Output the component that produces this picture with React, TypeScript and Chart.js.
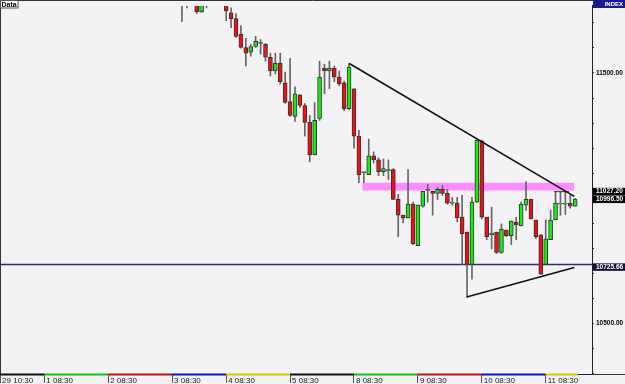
import React, { useEffect, useRef } from 'react';
import { Chart, registerables } from 'chart.js';

Chart.register(...registerables);

// ---------- data ----------
// bar index of the first entry of the OHLC arrays (earlier bars lie above the visible range)
const FIRST_BAR = 37;
const opens: (number | null)[] = [
  11830, 11800, null, 11785, 11744, 11790, null, null, null, 11790,
  11740, 11717, 11654, 11602, 11583, 11606, 11618, 11614, 11563, 11508,
  11539, 11461, 11386, 11327, 11413, 11370, 11303, 11173, 11319, 11520,
  11508, 11520, 11484, 11461, 11358, 11437, 11248, 11102, 11094, 11169,
  11153, 11106, 11110, 11114, 10995, 10932, 10921, 10976, 10810, 10968,
  11031, 11027, 11019, 11035, 11019, 10980, 10980, 10924, 10865, 10735,
  10984, 11228, 10924, 10854, 10865, 10783, 10873, 10850, 10905, 10889,
  10972, 10995, 10913, 10854, 10735, 10834, 10913, 10976, 10976, 10980,
  10968,
];
const highs: (number | null)[] = [
  11850, 11820, null, 11800, 11800, 11800, null, null, null, 11800,
  11760, 11737, 11689, 11638, 11614, 11646, 11634, 11618, 11579, 11579,
  11579, 11504, 11559, 11445, 11413, 11378, 11331, 11382, 11547, 11535,
  11547, 11528, 11508, 11468, 11539, 11437, 11271, 11102, 11236, 11185,
  11161, 11157, 11153, 11118, 11015, 10932, 11114, 10984, 10972, 11027,
  11055, 11027, 11043, 11051, 11035, 11003, 11003, 11011, 10865, 11003,
  11232, 11232, 10924, 10964, 10865, 10897, 10873, 10909, 10924, 10984,
  11066, 10995, 10913, 10854, 10913, 10952, 11027, 11027, 11027, 11011,
  10999,
];
const lows: (number | null)[] = [
  11705, 11760, null, 11737, 11742, 11760, null, null, null, 11709,
  11681, 11642, 11599, 11528, 11567, 11602, 11575, 11547, 11488, 11496,
  11457, 11378, 11327, 11307, 11362, 11248, 11145, 11173, 11311, 11417,
  11437, 11465, 11449, 11350, 11354, 11200, 11062, 11062, 11094, 11141,
  11090, 11090, 11074, 10995, 10846, 10901, 10921, 10814, 10810, 10964,
  10984, 10932, 10995, 11011, 10976, 10972, 10905, 10735, 10605, 10676,
  10984, 10917, 10834, 10798, 10779, 10779, 10846, 10814, 10834, 10889,
  10952, 10917, 10838, 10696, 10735, 10834, 10913, 10932, 10935, 10960,
  10968,
];
const closes: (number | null)[] = [
  11800, 11790, null, 11744, 11785, 11780, null, null, null, 11748,
  11717, 11646, 11602, 11579, 11606, 11626, 11618, 11563, 11508, 11539,
  11465, 11382, 11331, 11417, 11370, 11303, 11173, 11311, 11484, 11508,
  11520, 11484, 11457, 11358, 11524, 11248, 11094, 11102, 11169, 11153,
  11106, 11118, 11110, 10995, 10932, 10921, 10976, 10818, 10972, 11027,
  11031, 11019, 11035, 11019, 10980, 10980, 10921, 10857, 10735, 10984,
  11232, 10924, 10846, 10861, 10783, 10877, 10850, 10909, 10893, 10976,
  10995, 10917, 10846, 10696, 10838, 10913, 10980, 10980, 10980, 10968,
  10996.5,
];

// x-axis day starts (bar index) and their labels
const dayStarts = [0, 9, 22, 35, 46, 59, 72, 85, 98, 111];
const dayLabels = ['29 10:30', '1 08:30', '2 08:30', '3 08:30', '4 08:30', '5 08:30', '8 08:30', '9 08:30', '10 08:30', '11 08:30'];
const LAST_BAR = 117;

// y-axis labelled levels
const labeledLevels = [11500, 10500];

// drawn objects
const upperTrendX = [71.05, 116.82];
const upperTrendY = [11538, 11007];
const lowerTrendX = [94.93, 116.82];
const lowerTrendY = [10605, 10723];
const bracketX = [112.69, 115.74];
const bracketY = [11026, 11026];
const hLineLevel = 10735;
const bandX = [73.69, 116.82];
const bandTop = 11062;
const bandBottom = 11031;

// right-side price tags
const priceTags = [11027.2, 10996.5, 10725.66];

// ---------- styles ----------
const BG = '#f3f2f5';
const FONT = '"Liberation Sans", Arial, sans-serif';
const UP = '#11ee11';
const DOWN = '#ee1111';
const X_MIN = -0.012;
const X_MAX = 120.42;
const Y_MIN = 10297.7;
const Y_MAX = 11768;
const sepColors = ['#111111', '#12c012', '#c01212', '#1212c0', '#d8c800', '#111111', '#12c012', '#c01212', '#1212c0', '#d8c800'];
const tagColors = ['#000000', '#000000', '#14143c'];

const decorPlugin = {
  id: 'decor',
  beforeDraw(chart: any) {
    const { ctx, width, height } = chart;
    ctx.save();
    ctx.fillStyle = BG;
    ctx.fillRect(0, 0, width, height);
    ctx.restore();
  },
  afterDraw(chart: any) {
    const { ctx, chartArea: a, scales, width } = chart;
    const x = scales.x;
    const y = scales.y;
    ctx.save();
    // frame
    ctx.strokeStyle = '#333';
    ctx.lineWidth = 1;
    ctx.beginPath();
    ctx.moveTo(0, 0.5);
    ctx.lineTo(width, 0.5);
    ctx.moveTo(0.5, 0);
    ctx.lineTo(0.5, a.bottom);
    ctx.moveTo(a.right, a.bottom + 0.5);
    ctx.lineTo(width, a.bottom + 0.5);
    ctx.stroke();

    // day separators along bottom
    for (let i = 0; i < dayStarts.length; i++) {
      const x0 = Math.max(a.left, x.getPixelForValue(dayStarts[i]));
      const x1 = i + 1 < dayStarts.length ? x.getPixelForValue(dayStarts[i + 1]) : x.getPixelForValue(LAST_BAR + 0.5);
      ctx.fillStyle = sepColors[i];
      ctx.fillRect(x0, a.bottom - 0.5, x1 - x0, 2);
    }

    // price tags
    ctx.font = `bold 6.5px ${FONT}`;
    ctx.textBaseline = 'middle';
    ctx.textAlign = 'left';
    priceTags.forEach((v, i) => {
      const yy = y.getPixelForValue(v);
      ctx.fillStyle = tagColors[i];
      ctx.fillRect(a.right + 1, yy - 3.5, width - a.right - 1, 7.5);
      ctx.fillStyle = '#ffffff';
      ctx.fillText(v.toFixed(2), a.right + 4, yy + 0.3);
    });

    // INDEX header
    ctx.fillStyle = '#1a1a8c';
    ctx.fillRect(a.right + 1, 0, width - a.right - 1, 8);
    ctx.fillStyle = '#ffffff';
    ctx.font = `bold 6px ${FONT}`;
    ctx.textAlign = 'right';
    ctx.fillText('INDEX', width - 2, 4.3);

    // Data box
    ctx.fillStyle = '#ffffff';
    ctx.fillRect(0, 0, 18, 8);
    ctx.strokeStyle = '#555';
    ctx.strokeRect(0.5, 0.5, 17.5, 7.5);
    ctx.fillStyle = '#000';
    ctx.font = `bold 7px ${FONT}`;
    ctx.textAlign = 'left';
    ctx.fillText('Data', 1.5, 4.6);
    ctx.restore();
  },
};

const App = () => {
  const ref = useRef<HTMLCanvasElement>(null);

  useEffect(() => {
    const canvas = ref.current;
    if (!canvas) return;

    const bodies: any[] = [];
    const wicks: any[] = [];
    const bodyColors: string[] = [];
    for (let i = 0; i < opens.length; i++) {
      const o = opens[i], h = highs[i], l = lows[i], c = closes[i];
      if (o == null || h == null || l == null || c == null) continue;
      const idx = FIRST_BAR + i;
      bodies.push({ x: idx, y: [o, c] });
      wicks.push({ x: idx, y: [l, h] });
      bodyColors.push(c >= o ? UP : DOWN);
    }

    const chart = new Chart(canvas, {
      type: 'bar',
      data: {
        datasets: [
          {
            type: 'line',
            label: 'band',
            data: bandX.map((v) => ({ x: v, y: bandTop })),
            borderWidth: 0,
            pointRadius: 0,
            backgroundColor: '#ff8cff',
            fill: { value: bandBottom },
            order: 10,
          } as any,
          {
            type: 'line',
            label: 'level',
            data: [{ x: X_MIN, y: hLineLevel }, { x: X_MAX, y: hLineLevel }],
            borderColor: '#2e2e6e',
            borderWidth: 1.5,
            pointRadius: 0,
            order: 9,
          } as any,
          {
            label: 'wicks',
            data: wicks,
            backgroundColor: '#666666',
            barThickness: 1,
            grouped: false,
            order: 5,
          } as any,
          {
            label: 'bodies',
            data: bodies,
            backgroundColor: bodyColors,
            borderColor: '#333333',
            borderWidth: 1,
            borderSkipped: false,
            barThickness: 4,
            minBarLength: 1,
            grouped: false,
            order: 4,
          } as any,
          {
            type: 'line',
            label: 'upper',
            data: upperTrendX.map((v, i) => ({ x: v, y: upperTrendY[i] })),
            borderColor: '#111111',
            borderWidth: 1.6,
            pointRadius: 0,
            order: 2,
          } as any,
          {
            type: 'line',
            label: 'lower',
            data: lowerTrendX.map((v, i) => ({ x: v, y: lowerTrendY[i] })),
            borderColor: '#111111',
            borderWidth: 1.6,
            pointRadius: 0,
            order: 2,
          } as any,
          {
            type: 'line',
            label: 'bracket',
            data: bracketX.map((v, i) => ({ x: v, y: bracketY[i] })),
            borderColor: '#333333',
            borderWidth: 1,
            pointRadius: 0,
            order: 2,
          } as any,
        ],
      },
      options: {
        responsive: false,
        animation: false,
        devicePixelRatio: 1,
        events: [],
        layout: { padding: { top: 1, left: 0, right: 0, bottom: 0 } },
        plugins: { legend: { display: false }, tooltip: { enabled: false } },
        scales: {
          x: {
            type: 'linear',
            position: 'bottom',
            min: X_MIN,
            max: X_MAX,
            offset: false,
            grid: { offset: false, drawOnChartArea: false, drawTicks: true, tickLength: 9, color: '#555' },
            border: { display: true, color: '#222', width: 1 },
            afterBuildTicks: (s: any) => {
              s.ticks = dayStarts.map((v) => ({ value: v }));
            },
            afterFit: (s: any) => {
              s.height = 10;
            },
            ticks: {
              autoSkip: false,
              maxRotation: 0,
              minRotation: 0,
              align: 'start',
              padding: -7,
              labelOffset: 2,
              color: '#222',
              font: { size: 8, family: FONT },
              callback: (_v: any, i: number) => dayLabels[i],
            },
          },
          y: {
            type: 'linear',
            position: 'right',
            min: Y_MIN,
            max: Y_MAX,
            beginAtZero: false,
            grid: { drawOnChartArea: false, tickLength: 2, color: '#333' },
            border: { display: true, color: '#222', width: 1 },
            afterFit: (s: any) => {
              s.width = 33;
            },
            ticks: {
              stepSize: 100,
              includeBounds: false,
              autoSkip: false,
              padding: 2,
              color: '#000',
              font: { size: 6.5, weight: 'bold', family: FONT },
              callback: (v: any) => (labeledLevels.includes(Number(v)) ? Number(v).toFixed(2) : ''),
            },
          },
        },
      } as any,
      plugins: [decorPlugin],
    });

    return () => chart.destroy();
  }, []);

  return (
    <div style={{ position: 'fixed', left: 0, top: 0, width: 625, height: 384, background: BG }}>
      <canvas ref={ref} width={625} height={384} style={{ display: 'block', width: 625, height: 384 }} />
    </div>
  );
};

export default App;
